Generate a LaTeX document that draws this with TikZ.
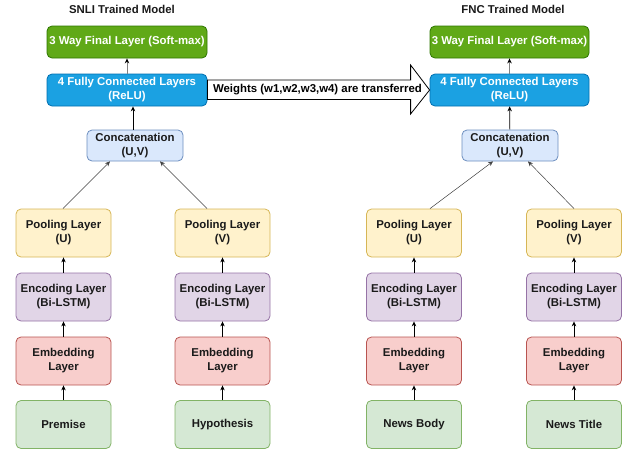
\documentclass[tikz,border=0pt]{standalone}
\usepackage{fontspec}
\setmainfont{Liberation Sans}
\usetikzlibrary{calc,arrows.meta}
\definecolor{smF}{HTML}{60A917}\definecolor{smD}{HTML}{2D7600}
\definecolor{fcF}{HTML}{1BA1E2}\definecolor{fcD}{HTML}{006EAF}
\definecolor{ccF}{HTML}{DAE8FC}\definecolor{ccD}{HTML}{6C8EBF}
\definecolor{plF}{HTML}{FFF2CC}\definecolor{plD}{HTML}{D6B656}
\definecolor{enF}{HTML}{E1D5E7}\definecolor{enD}{HTML}{9673A6}
\definecolor{emF}{HTML}{F8CECC}\definecolor{emD}{HTML}{B85450}
\definecolor{inF}{HTML}{D5E8D4}\definecolor{inD}{HTML}{82B366}
\definecolor{txt}{HTML}{1A1A1A}
\tikzset{
  box/.style={draw, rounded corners=5pt, line width=0.8pt, inner sep=0pt, align=center,
    font=\bfseries\fontsize{11.4}{14}\selectfont, text=txt},
  wide/.style={box, minimum width=160pt, minimum height=32pt},
  colbox/.style={box, minimum width=95pt, minimum height=48pt},
  smbox/.style={wide, fill=smF, draw=smD, text=white},
  fcbox/.style={wide, fill=fcF, draw=fcD, text=white},
  ccbox/.style={box, minimum width=96pt, minimum height=31pt, fill=ccF, draw=ccD},
  plbox/.style={colbox, fill=plF, draw=plD},
  enbox/.style={colbox, fill=enF, draw=enD},
  embox/.style={colbox, fill=emF, draw=emD},
  inbox/.style={colbox, fill=inF, draw=inD},
  arr/.style={-{Stealth[length=5pt,width=4.5pt]}, line width=0.7pt, black},
  garr/.style={-{Stealth[length=5pt,width=4.5pt,black]}, line width=0.9pt, draw=gray},
  diag/.style={arr, line width=0.5pt, draw=black!75},
  ttl/.style={font=\bfseries\fontsize{11.4}{14}\selectfont, text=txt},
}
\begin{document}
\begin{tikzpicture}[x=1pt,y=-1pt]
\useasboundingbox (0,0) rectangle (633,453);
% titles
\node[ttl] (t1) at (122,9) {SNLI Trained Model};
\node[ttl] (t2) at (513,9) {FNC Trained Model};
% left model top
\node[smbox] (sm1) at (127,42) {3 Way Final Layer (Soft-max)};
\node[fcbox] (fc1) at (127,90) {4 Fully Connected Layers\\(ReLU)};
\node[ccbox] (cc1) at (135,145.5) {Concatenation\\(U,V)};
% right model top
\node[smbox, minimum width=159pt] (sm2) at (509.5,42) {3 Way Final Layer (Soft-max)};
\node[fcbox, minimum width=159pt] (fc2) at (509.5,90) {4 Fully Connected Layers\\(ReLU)};
\node[ccbox] (cc2) at (510,145.5) {Concatenation\\(U,V)};
% columns
\foreach \n/\x/\p/\i in {a/63.5/U/Premise, b/222.5/V/Hypothesis, c/414/U/News Body, d/574/V/News Title}{
  \node[plbox] (pl\n) at (\x,233) {Pooling Layer\\(\p)};
  \node[enbox] (en\n) at (\x,297) {Encoding Layer\\(Bi-LSTM)};
  \node[embox] (em\n) at (\x,361) {Embedding\\Layer};
  \node[inbox] (in\n) at (\x,424.5) {\i};
  \draw[arr] (in\n) -- (em\n);
  \draw[arr] (em\n) -- (en\n);
  \draw[arr] (en\n) -- (pl\n);
}
% vertical arrows top
\draw[arr] (cc1.north -| 133,0) -- (fc1.south -| 133,0);
\draw[garr] (fc1) -- (sm1);
\draw[arr] (cc2) -- (fc2);
\draw[garr] (fc2) -- (sm2);
% diagonal connectors
\coordinate (pa) at ($(pla.north)+(-0.5,0)$);
\coordinate (pb) at ($(plb.north)+(-15.5,0)$);
\coordinate (pc) at ($(plc.north)+(16,0)$);
\coordinate (pd) at (pld.north);
\coordinate (ca) at ($(cc1.south)+(-25,0)$);
\coordinate (cb) at ($(cc1.south)+(25,0)$);
\coordinate (cc) at ($(cc2.south)+(-17,0)$);
\coordinate (cd) at ($(cc2.south)+(18,0)$);
\draw[diag] (pa) -- (ca);
\draw[diag] (pb) -- (cb);
\draw[diag] (pc) -- (cc);
\draw[diag] (pd) -- (cd);
% weights transfer arrow
\coordinate (wa) at (fc1.east);
\coordinate (wb) at (fc2.west);
\draw[line width=0.8pt, fill=white]
  ($(wa)+(0,-10)$) -- ($(wb)+(-19,-10)$) -- ($(wb)+(-19,-25)$) -- (wb)
  -- ($(wb)+(-19,24)$) -- ($(wb)+(-19,9.5)$) -- ($(wa)+(0,9.5)$) -- cycle;
\node[ttl, text=black] (wt) at (317.5,89.5) {Weights (w1,w2,w3,w4) are transferred};
\end{tikzpicture}
\end{document}
